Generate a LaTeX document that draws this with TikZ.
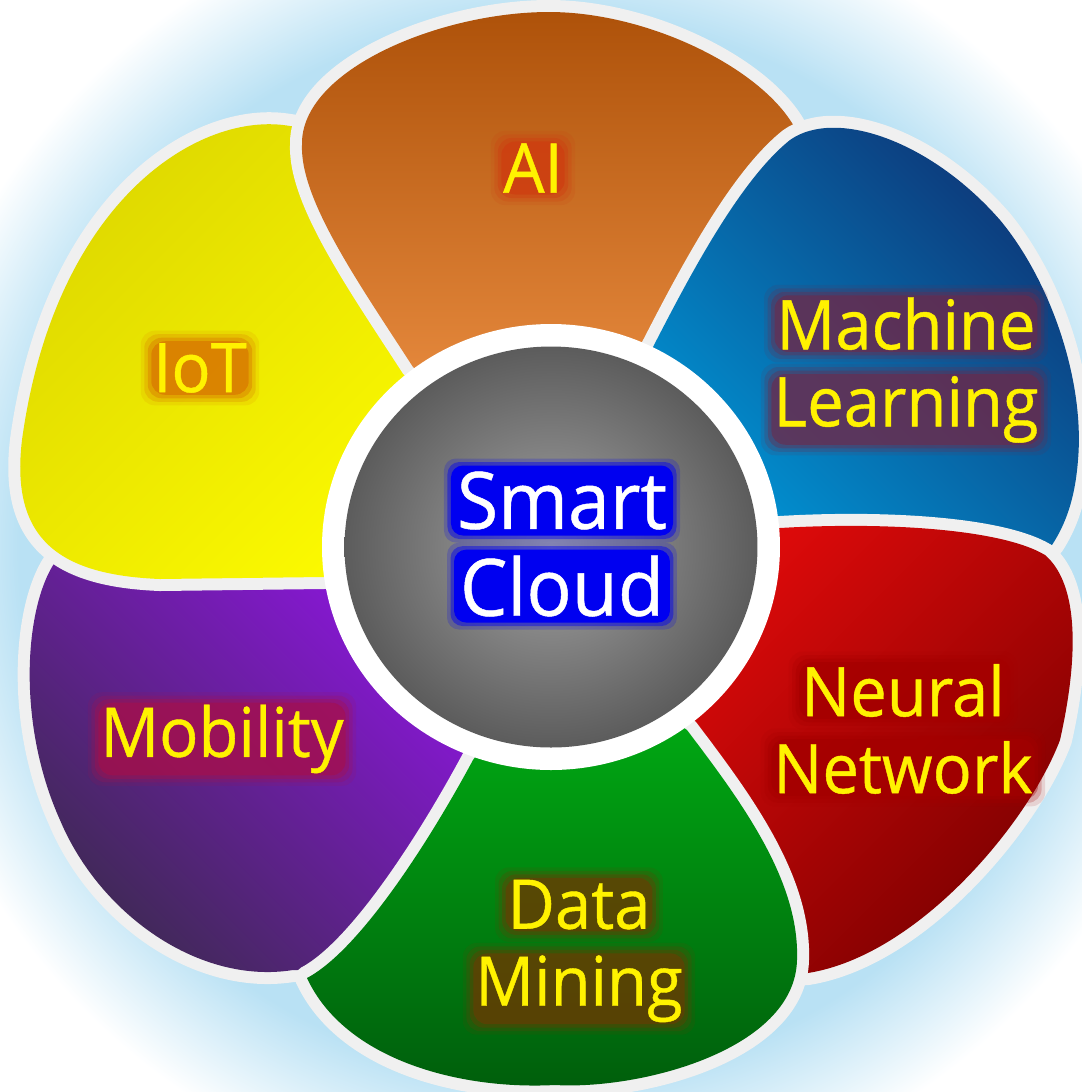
\documentclass[tikz,border=0pt]{standalone}
\usepackage{fontspec}
\setmainfont{Open Sans}[FakeStretch=0.95, FakeBold=0.6]

\definecolor{rim}{HTML}{F0F0F0}
\definecolor{haloblue}{HTML}{B9E1F4}
\definecolor{hubin}{HTML}{A4A4A4}
\definecolor{hubout}{HTML}{5C5C5C}
\definecolor{aiTop}{HTML}{AE520A}
\definecolor{aiMid}{HTML}{E6863A}
\definecolor{aiBot}{HTML}{F29548}
\definecolor{iotA}{HTML}{DDD700}
\definecolor{iotB}{HTML}{FCFA00}
\definecolor{mlA}{HTML}{0E3576}
\definecolor{mlB}{HTML}{0098D8}
\definecolor{nnA}{HTML}{DC0A0A}
\definecolor{nnB}{HTML}{7A0000}
\definecolor{dmA}{HTML}{00B814}
\definecolor{dmB}{HTML}{005E0C}
\definecolor{mobA}{HTML}{8D16DE}
\definecolor{mobB}{HTML}{3C2A50}
\definecolor{aiGlow}{HTML}{D03A10}
\definecolor{iotGlow}{HTML}{D86C00}
\definecolor{mlGlow}{HTML}{702848}
\definecolor{nnGlow}{HTML}{A40000}
\definecolor{dmGlow}{HTML}{6E3A04}
\definecolor{mobGlow}{HTML}{A8104A}
\definecolor{hubGlow}{HTML}{0000F0}

\pgfdeclareradialshading{halo}{\pgfpoint{0bp}{0bp}}{color(0bp)=(haloblue); color(19bp)=(haloblue); color(23.5bp)=(white); color(50bp)=(white)}
\pgfdeclareradialshading{hub}{\pgfpoint{0bp}{0bp}}{color(0bp)=(hubin); color(25bp)=(hubout); color(50bp)=(hubout)}

\pgfdeclarelayer{glow}
\pgfdeclarelayer{front}
\pgfsetlayers{main,glow,front}

\begin{document}
\begin{tikzpicture}[x=0.1mm,y=-0.1mm]
    \tikzstyle{petal}=[preaction={draw=rim, line width=2.4mm, line join=round}]
    \tikzstyle{lbl}=[font=\fontsize{19.5}{21.9}\selectfont, text=yellow, align=center, inner sep=0pt]
    \tikzstyle{hublbl}=[font=\fontsize{22.5}{24.75}\selectfont, text=white, align=center, inner sep=0pt]
    \tikzstyle{glowbox}=[font=\fontsize{19.5}{21.9}\selectfont, rounded corners=1.4mm]
    \tikzstyle{hubglow}=[font=\fontsize{22.5}{24.75}\selectfont, rounded corners=1.2mm, fill=hubGlow]

    \useasboundingbox (0,0) rectangle (1082,1092);

    % background glow
    \begin{scope}
        \clip (0,0) rectangle (1082,1092);
        \shade[shading=halo] (-149,-153) rectangle (1251,1247);
    \end{scope}

    % petals, back to front
    \shade[petal, top color=mobA, bottom color=mobB, shading angle=-45]
        (80,568) -- (58,558) .. controls (25,600) and (15,720) .. (60,820)
        .. controls (100,915) and (200,985) .. (293,970)
        -- (345,972) -- (440,852) -- (500,700) -- (470,572) -- cycle;
    \shade[petal, top color=iotA, bottom color=iotB, shading angle=45]
        (470,470) -- (425,365) -- (325,190) -- (305,128) -- (290,126)
        .. controls (200,110) and (55,200) .. (22,440)
        .. controls (10,540) and (60,575) .. (160,579)
        -- (323,577) -- (430,576) -- cycle;
    \shade[petal, top color=aiTop, middle color=aiMid, bottom color=aiBot]
        (551,470) -- (413,367) .. controls (360,285) and (300,200) .. (302,145)
        .. controls (300,70) and (440,12) .. (549,12)
        .. controls (650,12) and (765,70) .. (796,130)
        -- (800,170) -- (725,255) -- (665,352) -- cycle;
    \shade[petal, top color=mlA, bottom color=mlB, shading angle=-45]
        (600,450) -- (653,347) .. controls (690,275) and (740,180) .. (790,140)
        .. controls (835,108) and (930,140) .. (1000,220)
        .. controls (1050,280) and (1085,380) .. (1078,460)
        .. controls (1075,500) and (1065,525) .. (1052,545)
        -- (1030,553) -- (907,537) -- (770,540) -- cycle;
    \shade[petal, top color=nnA, bottom color=nnB, shading angle=45]
        (700,540) -- (780,528) .. controls (880,522) and (1000,528) .. (1045,555)
        .. controls (1080,585) and (1078,660) .. (1060,740)
        .. controls (1030,820) and (920,955) .. (808,973)
        -- (780,975) -- (772,905) -- (730,835) -- (672,745) -- cycle;
    \shade[petal, top color=dmA, bottom color=dmB]
        (560,640) -- (687,730) .. controls (740,800) and (800,880) .. (797,960)
        .. controls (795,1050) and (640,1090) .. (555,1085)
        .. controls (460,1090) and (345,1060) .. (307,978)
        .. controls (360,950) and (430,840) .. (473,760) -- cycle;

    % hub
    \fill[white] (551,547) ellipse [x radius=22.9mm, y radius=22.3mm];
    \shade[shading=hub] (551,547) ellipse [x radius=20.65mm, y radius=20.05mm];

    % labels
    \begin{pgfonlayer}{front}
        \node[lbl] (ai)  at (533,168) {AI};
        \node[lbl] (iot) at (200,368) {IoT};
        \node[lbl] (ml)  at (906,370) {Machine\\Learning};
        \node[lbl] (nn)  at (903,729) {Neural\\Network};
        \node[lbl] (dm)  at (579,951) {Data\\Mining};
        \node[lbl] (mob) at (222,739) {Mobility};
        \node[hublbl] (hub) at (562,544) {Smart\\Cloud};
    \end{pgfonlayer}

    % soft glow behind the labels
    \begin{pgfonlayer}{glow}
        \foreach \s/\o in {0.2/0.55, 0.55/0.35, 0.9/0.22, 1.25/0.12}{
            \node[glowbox, inner sep=\s mm, fill=aiGlow, fill opacity=\o] at (ai) {\phantom{AI}};
            \node[glowbox, inner sep=\s mm, fill=iotGlow, fill opacity=\o] at (iot) {\phantom{IoT}};
            \node[glowbox, inner sep=\s mm, fill=mobGlow, fill opacity=\o] at (mob) {\phantom{Mobility}};
            \node[glowbox, inner sep=\s mm, fill=mlGlow, fill opacity=\o, anchor=north] at ([yshift=\s mm]ml.north) {\phantom{Machine}};
            \node[glowbox, inner sep=\s mm, fill=mlGlow, fill opacity=\o, anchor=south] at ([yshift=-\s mm]ml.south) {\phantom{Learning}};
            \node[glowbox, inner sep=\s mm, fill=nnGlow, fill opacity=\o, anchor=north] at ([yshift=\s mm]nn.north) {\phantom{Neural}};
            \node[glowbox, inner sep=\s mm, fill=nnGlow, fill opacity=\o, anchor=south] at ([yshift=-\s mm]nn.south) {\phantom{Network}};
            \node[glowbox, inner sep=\s mm, fill=dmGlow, fill opacity=\o, anchor=north] at ([yshift=\s mm]dm.north) {\phantom{Data}};
            \node[glowbox, inner sep=\s mm, fill=dmGlow, fill opacity=\o, anchor=south] at ([yshift=-\s mm]dm.south) {\phantom{Mining}};
        }
        \foreach \s/\o in {0.6/1, 0.95/0.45, 1.3/0.2}{
            \node[hubglow, inner sep=\s mm, fill opacity=\o, anchor=north] at ([yshift=\s mm]hub.north) {\phantom{Smart}};
            \node[hubglow, inner sep=\s mm, fill opacity=\o, anchor=south] at ([yshift=-\s mm]hub.south) {\phantom{Cloud}};
        }
    \end{pgfonlayer}
\end{tikzpicture}
\end{document}
